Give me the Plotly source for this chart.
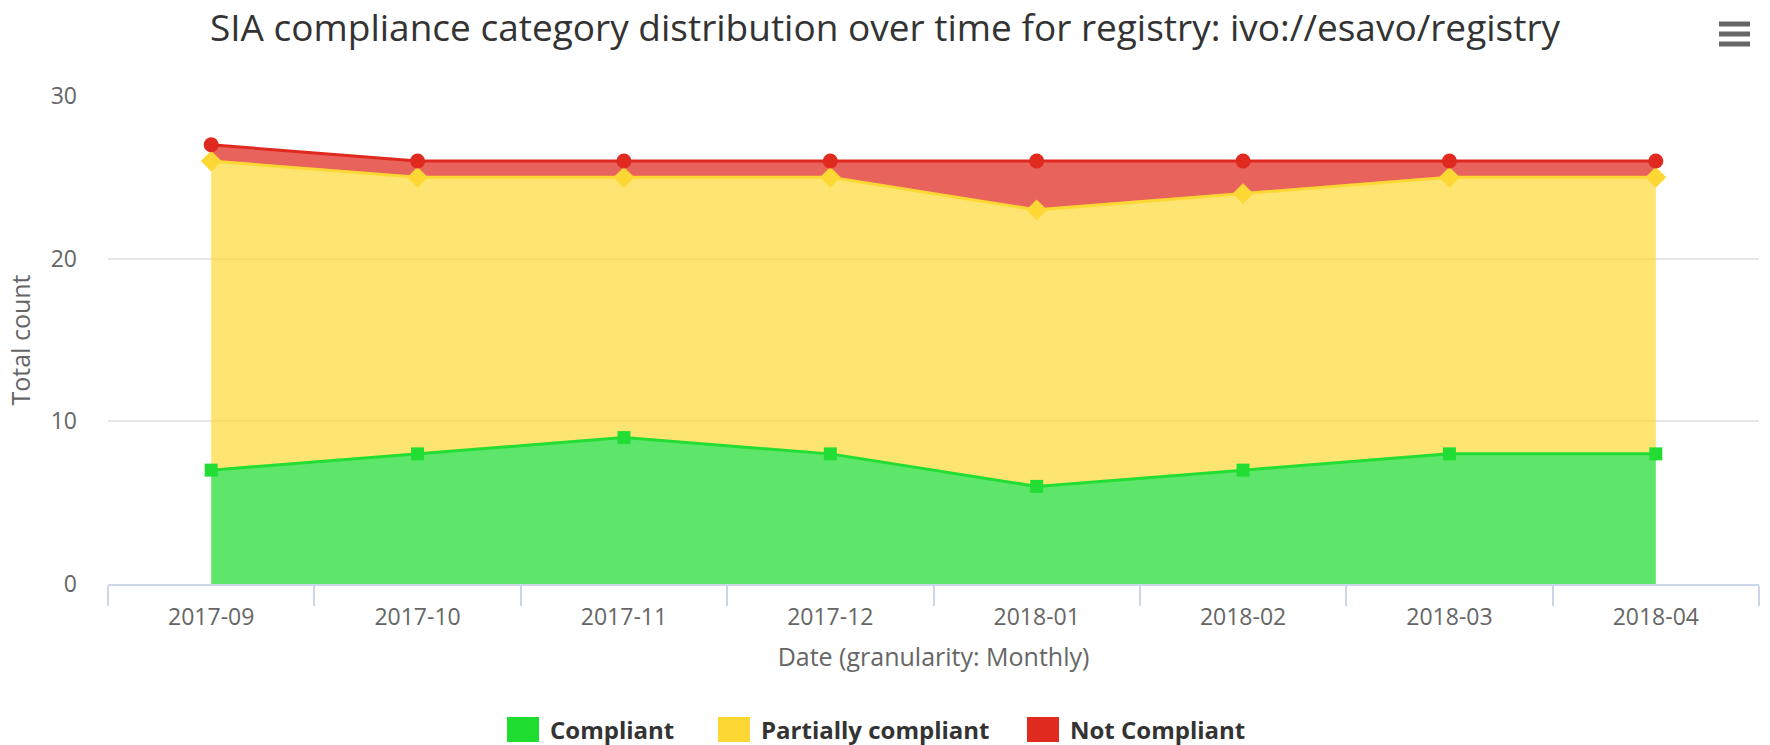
import plotly.graph_objects as go

months = ["2017-09", "2017-10", "2017-11", "2017-12", "2018-01", "2018-02", "2018-03", "2018-04"]
compliant = [7, 8, 9, 8, 6, 7, 8, 8]
partially = [19, 17, 16, 17, 17, 17, 17, 17]
not_compliant = [1, 1, 1, 1, 3, 2, 1, 1]
series_names = ["Compliant", "Partially compliant", "Not Compliant"]

line_colors = ["#22dd33", "#fdd835", "#e0291f"]
fill_colors = ["rgba(34,221,51,0.73)", "rgba(254,218,59,0.73)", "rgba(224,41,31,0.73)"]
symbols = ["square", "diamond", "circle"]
msizes = [13, 16, 15]
legend_colors = ["#1fdd30", "#fdd835", "#e0291f"]

FONT = "Open Sans, sans-serif"
W, H = 1770, 745
L, R, T, B = 108, 11, 96, 161
PW, PH = W - L - R, H - T - B


def px(x):
    return (x - L) / PW


def py(y):
    return (H - B - y) / PH


fig = go.Figure()
for name, vals, lc, fc, sym, ms in zip(series_names, [compliant, partially, not_compliant],
                                       line_colors, fill_colors, symbols, msizes):
    fig.add_trace(go.Scatter(
        x=months, y=vals, name=name, stackgroup="one", mode="lines+markers",
        line=dict(color=lc, width=3), fillcolor=fc,
        marker=dict(symbol=sym, size=ms, color=lc),
        showlegend=False, hoverinfo="x+y+name",
    ))

fig.update_layout(
    width=W, height=H,
    paper_bgcolor="white", plot_bgcolor="white",
    margin=dict(l=L, r=R, t=T, b=B, autoexpand=False),
    showlegend=False,
    title=dict(text="SIA compliance category distribution over time for registry: ivo://esavo/registry",
               x=0.5, xref="container", xanchor="center", y=1 - 28 / H, yanchor="middle",
               font=dict(family=FONT, size=37, color="#333333")),
    font=dict(family=FONT, color="#666666"),
    xaxis=dict(type="category", range=[-0.5, 7.5], tickson="boundaries", ticks="outside",
               ticklen=20, tickcolor="#ccd6eb", tickwidth=1.5, showline=True, linecolor="#ccd6eb",
               linewidth=2, showgrid=False, automargin=False, ticklabelstandoff=11,
               tickfont=dict(family=FONT, size=23, color="#666666"),
               title=dict(text="Date (granularity: Monthly)", font=dict(family=FONT, size=25, color="#666666"),
                          standoff=18)),
    yaxis=dict(range=[0, 30], tickvals=[0, 10, 20, 30], showgrid=True, gridcolor="#e6e6e6",
               gridwidth=1.5, zeroline=False, showline=False, ticks="", automargin=False,
               ticklabelstandoff=30,
               tickfont=dict(family=FONT, size=23, color="#666666"),
               title=dict(text="Total count", font=dict(family=FONT, size=25, color="#666666"), standoff=12)),
)

# legend built from the series names/colours (Highcharts style squares)
legend_sq_x = [507, 718, 1027]
for name, col, x0 in zip(series_names, legend_colors, legend_sq_x):
    fig.add_shape(type="rect", xref="paper", yref="paper",
                  x0=px(x0), x1=px(x0 + 32), y0=py(742), y1=py(717),
                  fillcolor=col, line=dict(width=0))
    fig.add_annotation(text="<b>" + name + "</b>", xref="paper", yref="paper",
                       x=px(x0 + 42), y=py(729), xanchor="left", yanchor="middle", showarrow=False,
                       borderpad=0, font=dict(family=FONT, size=24, color="#333333"))

# hamburger menu icon (top right)
for cy in [24, 34, 44]:
    fig.add_shape(type="line", xref="paper", yref="paper",
                  x0=px(1719), x1=px(1750), y0=py(cy), y1=py(cy),
                  line=dict(color="#666666", width=5))

fig.write_html("out.html", config={"displayModeBar": False},
               post_script="document.body.style.margin='0';document.body.style.overflow='hidden';")
